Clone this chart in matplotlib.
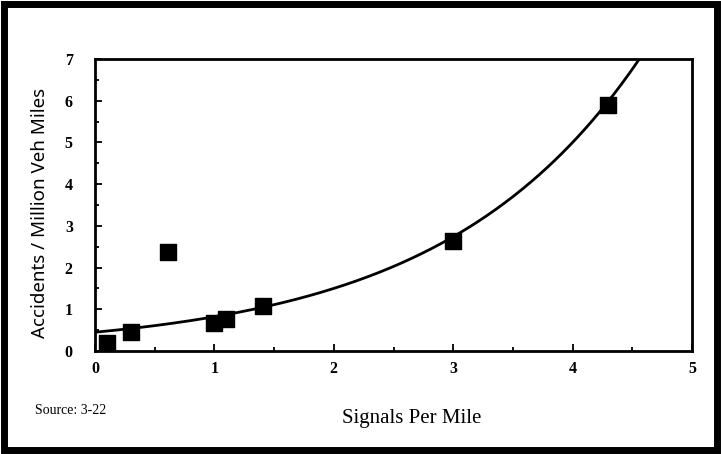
import numpy as np
import matplotlib
matplotlib.use("Agg")
import matplotlib.pyplot as plt
from matplotlib.patches import Rectangle
from matplotlib.ticker import MultipleLocator

# Data
signals_per_mile = [0.1, 0.3, 0.61, 1.0, 1.1, 1.41, 3.0, 4.3]
accidents = [0.2, 0.45, 2.37, 0.68, 0.77, 1.09, 2.63, 5.89]

# Fitted exponential trend curve parameters
fit_a = 0.45
fit_b = 0.602

x_ticks = [0, 1, 2, 3, 4, 5]
y_ticks = [0, 1, 2, 3, 4, 5, 6, 7]

serif = ["Liberation Serif", "DejaVu Serif"]

fig = plt.figure(figsize=(7.21, 4.54), dpi=100)
fig.patch.set_facecolor("white")

ax = fig.add_axes([95 / 721, 1 - 351 / 454, 597 / 721, 292 / 454])

xs = np.linspace(0, 5, 400)
ax.plot(xs, fit_a * np.exp(fit_b * xs), color="black", lw=2.0, zorder=2)
ax.scatter(signals_per_mile, accidents, marker="s", s=140, color="black", zorder=3)

ax.set_xlim(0, 5)
ax.set_ylim(0, 7)
ax.set_xticks(x_ticks)
ax.set_yticks(y_ticks)
ax.xaxis.set_minor_locator(MultipleLocator(0.5))
ax.yaxis.set_minor_locator(MultipleLocator(0.5))
ax.tick_params(axis="both", which="both", direction="in", color="black", width=1.3)
ax.tick_params(axis="both", which="major", length=5)
ax.tick_params(axis="both", which="minor", length=3)
ax.tick_params(axis="x", which="major", pad=7, labelsize=11.5)
ax.tick_params(axis="y", which="major", pad=16, labelsize=11.5)
for lbl in ax.get_xticklabels() + ax.get_yticklabels():
    lbl.set_family(serif)
    lbl.set_fontweight("bold")
for sp in ax.spines.values():
    sp.set_linewidth(2.0)
    sp.set_color("black")

ax.set_xlabel("Signals Per Mile", family=serif, fontsize=15)
ax.xaxis.set_label_coords(0.53, -0.20)
ax.set_ylabel("Accidents / Million Veh Miles", family=["Noto Sans", "DejaVu Sans"],
              fontsize=13.5)
ax.yaxis.set_label_coords(-0.077, 0.472)

fig.text(35 / 721, 1 - 411 / 454, "Source: 3-22", family=serif, fontsize=10,
         ha="left", va="center")

fig.patches.append(Rectangle((4 / 721, 4 / 454), 713 / 721, 446 / 454,
                             transform=fig.transFigure, fill=False,
                             edgecolor="black", linewidth=5))

fig.savefig("out.png", dpi=100, facecolor="white")
